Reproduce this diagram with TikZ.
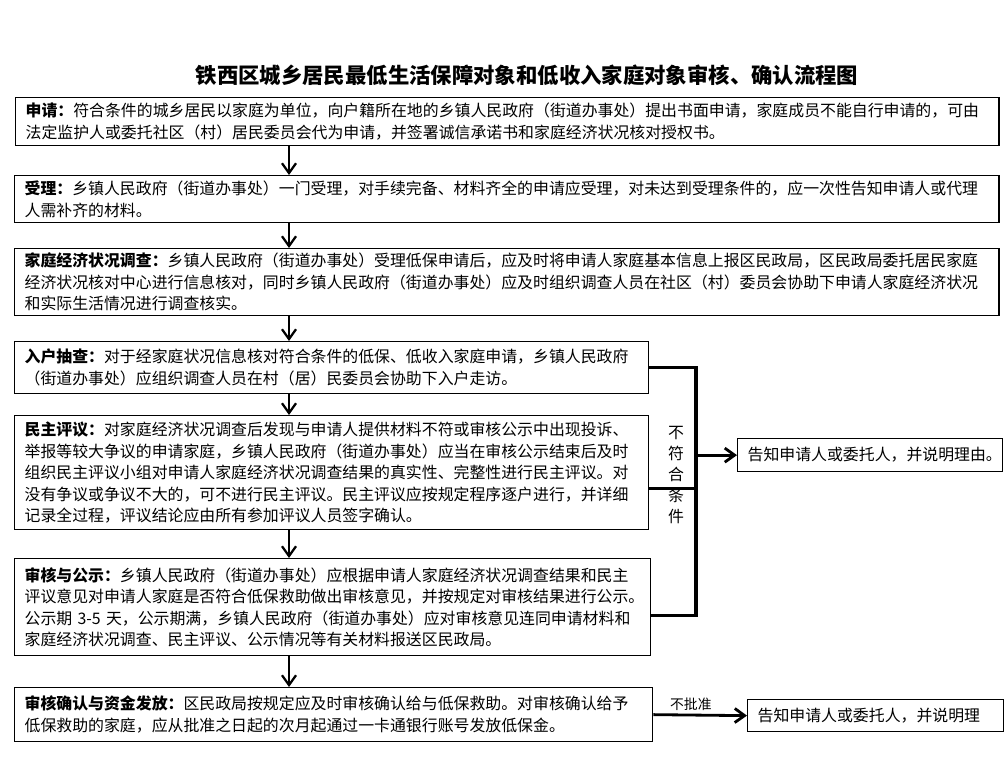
\documentclass[tikz,border=0pt]{standalone}
\usepackage{fontspec}
\setmainfont{Noto Sans CJK SC}
\usetikzlibrary{arrows.meta,calc}

\begin{document}
\begin{tikzpicture}[x=0.025cm,y=-0.025cm,
    stepbox/.style 2 args={draw, line width=0.9pt, anchor=north west, align=left,
        inner xsep=0.25cm, inner ysep=0pt, text width=#1, minimum height=#2,
        font=\fontsize{11.3}{15.3}\selectfont},
    flow/.style={line width=1.6pt, -{Straight Barb[length=7pt,width=10pt]}},
    branch/.style={line width=2.2pt}]
    \useasboundingbox (0,0) rectangle (1005,773);

    % Title
    \node[font=\fontsize{15.2}{18}\selectfont\bfseries] (title) at (527,75) {铁西区城乡居民最低生活保障对象和低收入家庭对象审核、确认流程图};

    % Draw the main column of steps
    \node[stepbox={24.075cm}{1.2cm}] (apply) at (15,97) {\textbf{申请：}符合条件的城乡居民以家庭为单位，向户籍所在地的乡镇人民政府（街道办事处）提出书面申请，家庭成员不能自行申请的，可由\\法定监护人或委托社区（村）居民委员会代为申请，并签署诚信承诺书和家庭经济状况核对授权书。};
    \node[stepbox={24.1cm}{1.175cm}] (accept) at (14,175) {\textbf{受理：}乡镇人民政府（街道办事处）一门受理，对手续完备、材料齐全的申请应受理，对未达到受理条件的，应一次性告知申请人或代理\\人需补齐的材料。};
    \node[stepbox={24.1cm}{1.675cm}] (survey) at (14,248) {\textbf{家庭经济状况调查：}乡镇人民政府（街道办事处）受理低保申请后，应及时将申请人家庭基本信息上报区民政局，区民政局委托居民家庭\\经济状况核对中心进行信息核对，同时乡镇人民政府（街道办事处）应及时组织调查人员在社区（村）委员会协助下申请人家庭经济状况\\和实际生活情况进行调查核实。};
    \node[stepbox={15.35cm}{1.3cm}] (check) at (14,341) {\textbf{入户抽查：}对于经家庭状况信息核对符合条件的低保、低收入家庭申请，乡镇人民政府\\（街道办事处）应组织调查人员在村（居）民委员会协助下入户走访。};
    \node[stepbox={15.35cm}{2.85cm}] (review) at (14,415) {\textbf{民主评议：}对家庭经济状况调查后发现与申请人提供材料不符或审核公示中出现投诉、\\举报等较大争议的申请家庭，乡镇人民政府（街道办事处）应当在审核公示结束后及时\\组织民主评议小组对申请人家庭经济状况调查结果的真实性、完整性进行民主评议。对\\没有争议或争议不大的，可不进行民主评议。民主评议应按规定程序逐户进行，并详细\\记录全过程，评议结论应由所有参加评议人员签字确认。};
    \node[stepbox={15.4cm}{2.425cm}] (audit) at (14,558) {\textbf{审核与公示：}乡镇人民政府（街道办事处）应根据申请人家庭经济状况调查结果和民主\\评议意见对申请人家庭是否符合低保救助做出审核意见，并按规定对审核结果进行公示。\\公示期 3-5 天，公示期满，乡镇人民政府（街道办事处）应对审核意见连同申请材料和\\家庭经济状况调查、民主评议、公示情况等有关材料报送区民政局。};
    \node[stepbox={15.45cm}{1.35cm}] (confirm) at (14,687) {\textbf{审核确认与资金发放：}区民政局按规定应及时审核确认给与低保救助。对审核确认给予\\低保救助的家庭，应从批准之日起的次月起通过一卡通银行账号发放低保金。};

    % Draw the two notice boxes on the right
    \node[stepbox={6.125cm}{0.825cm}] (notice) at (737,438) {告知申请人或委托人，并说明理由。};
    \node[stepbox={5.9cm}{0.8cm}] (refuse) at (747,699) {告知申请人或委托人，并说明理};

    % Arrows down the column
    \coordinate (col) at (289,0);
    \draw[flow] (apply.south -| col) -- (accept.north -| col);
    \draw[flow] (accept.south -| col) -- (survey.north -| col);
    \draw[flow] (survey.south -| col) -- (check.north -| col);
    \draw[flow] (check.south -| col) -- (review.north -| col);
    \draw[flow] (review.south -| col) -- (audit.north -| col);
    \draw[flow] (audit.south -| col) -- (confirm.north -| col);

    % Draw the "not eligible" bracket
    \coordinate (spine) at (696,0);
    \coordinate (reviewout) at ($(review.east)+(0,16)$);
    \coordinate (auditout) at ($(audit.east)+(0,8)$);
    \draw[branch] (check.east) -- (check.east -| spine) -- (auditout -| spine) -- (auditout);
    \draw[branch] (reviewout) -- (reviewout -| spine);
    \draw[flow, line width=2pt] (notice.west -| spine) -- (notice.west);
    \node[font=\fontsize{11.3}{14.9}\selectfont, align=center] (unfit) at (676,475) {不\\符\\合\\条\\件};

    % Not approved
    \draw[flow, line width=2pt] (confirm.east) -- node[pos=0.4, above=-1pt, font=\fontsize{9.8}{11}\selectfont] (deny) {不批准} (refuse.west);
\end{tikzpicture}
\end{document}
